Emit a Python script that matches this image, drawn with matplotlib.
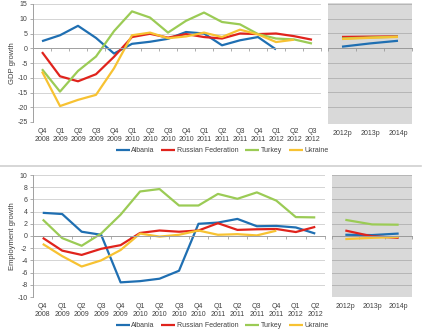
import numpy as np
import matplotlib
matplotlib.use("Agg")
import matplotlib.pyplot as plt
from matplotlib.lines import Line2D

plt.rcParams['font.family'] = ['Liberation Sans', 'DejaVu Sans']

# ---------------- data ----------------
gdp_quarters = ["Q4\n2008", "Q1\n2009", "Q2\n2009", "Q3\n2009", "Q4\n2009", "Q1\n2010",
                "Q2\n2010", "Q3\n2010", "Q4\n2010", "Q1\n2011", "Q2\n2011", "Q3\n2011",
                "Q4\n2011", "Q1\n2012", "Q2\n2012", "Q3\n2012"]
gdp_albania = [2.4, 4.4, 7.6, 3.5, -1.8, 1.5, 2.2, 3.2, 5.5, 5.0, 1.0, 2.7, 3.8, -0.4, None, None]
gdp_russia = [-1.3, -9.5, -11.2, -8.8, -2.9, 3.8, 4.9, 3.6, 4.8, 3.8, 3.3, 5.0, 4.8, 5.0, 4.1, 2.9]
gdp_turkey = [-7.1, -14.7, -7.7, -2.8, 5.8, 12.5, 10.4, 5.3, 9.3, 12.1, 8.9, 8.1, 4.8, 3.3, 3.0, 1.6]
gdp_ukraine = [-7.9, -19.6, -17.5, -15.8, -6.8, 4.4, 5.3, 3.4, 4.0, 5.3, 3.8, 6.3, 4.7, 2.1, 2.9, None]

proj_years = ["2012p", "2013p", "2014p"]
gdp_proj_albania = [0.5, 1.6, 2.5]
gdp_proj_russia = [3.8, 3.9, 4.0]
gdp_proj_turkey = [3.3, 3.6, 3.9]
gdp_proj_ukraine = [3.1, 3.5, 3.8]

emp_quarters = gdp_quarters[:15]
emp_albania = [3.8, 3.6, 0.7, 0.2, -7.6, -7.4, -7.0, -5.7, 2.0, 2.2, 2.8, 1.6, 1.65, 1.4, 0.4]
emp_russia = [-0.3, -2.4, -3.1, -2.1, -1.5, 0.5, 0.9, 0.7, 0.9, 2.1, 1.0, 1.1, 1.15, 0.65, 1.5]
emp_turkey = [2.7, -0.35, -1.6, 0.4, 3.5, 7.3, 7.7, 5.0, 5.0, 6.9, 6.1, 7.15, 5.8, 3.1, 3.05]
emp_ukraine = [-1.3, -3.3, -5.0, -4.0, -2.3, 0.4, -0.1, 0.2, 0.9, 0.2, 0.3, 0.1, 0.87, None, None]

emp_proj_albania = [0.2, 0.15, 0.4]
emp_proj_russia = [0.9, -0.05, -0.3]
emp_proj_turkey = [2.65, 1.9, 1.85]
emp_proj_ukraine = [-0.5, -0.3, -0.15]

names = ["Albania", "Russian Federation", "Turkey", "Ukraine"]
colors = ["#1F6FB2", "#E0231C", "#9BCB55", "#F7C232"]

LW = 1.6
TXT = "#404040"
GRID = "#d4d4d4"
AXC = "#a0a0a0"


def arr(v):
    return np.array([np.nan if x is None else x for x in v], dtype=float)


def left_panel(ax, cats, series, ylim, yticks, ylabel):
    x = np.arange(len(cats))
    for s, c, n in zip(series, colors, names):
        ax.plot(x, arr(s), color=c, lw=LW, label=n, solid_capstyle='butt')
    ax.set_xlim(-0.5, len(cats) - 0.5)
    ax.set_ylim(*ylim)
    ax.set_yticks(yticks)
    ax.set_yticklabels([str(t) for t in yticks], fontsize=5, color=TXT)
    for t in yticks:
        if t != 0 and t != ylim[0]:
            ax.axhline(t, color=GRID, lw=0.7, zorder=0)
    for sp in ['top', 'right']:
        ax.spines[sp].set_visible(False)
    ax.spines['left'].set_color(AXC)
    ax.spines['left'].set_linewidth(0.7)
    ax.spines['bottom'].set_position(('data', 0))
    ax.spines['bottom'].set_color(AXC)
    ax.spines['bottom'].set_linewidth(0.7)
    ax.tick_params(axis='y', length=2, width=0.6, color=AXC, pad=2)
    ax.set_xticks(x)
    ax.set_xticklabels([])
    ax.tick_params(axis='x', which='major', length=0)
    ax.set_xticks(np.arange(len(cats) + 1) - 0.5, minor=True)
    ax.tick_params(axis='x', which='minor', length=2.5, width=0.6, color=AXC)
    sec = ax.secondary_xaxis(location=0)
    sec.set_xticks(x)
    sec.set_xticklabels(cats, fontsize=5, color=TXT, linespacing=1.3)
    sec.tick_params(length=0, pad=4)
    sec.spines['bottom'].set_visible(False)
    ax.set_ylabel(ylabel, fontsize=5.5, color=TXT, labelpad=1)


def right_panel(ax, series, ylim, yticks, xlim):
    x = np.arange(len(proj_years))
    ax.set_facecolor("#d9d9d9")
    for s, c in zip(series, colors):
        ax.plot(x, arr(s), color=c, lw=LW, solid_capstyle='butt')
    ax.set_xlim(*xlim)
    ax.set_ylim(*ylim)
    for t in yticks:
        if t != 0 and t != yticks[0]:
            ax.axhline(t, color="#b5b5b5", lw=0.7, zorder=0)
    for sp in ['top', 'right', 'left']:
        ax.spines[sp].set_visible(False)
    ax.spines['bottom'].set_position(('data', 0))
    ax.spines['bottom'].set_color("#9a9a9a")
    ax.spines['bottom'].set_linewidth(0.7)
    ax.set_yticks([])
    ax.set_xticks(x)
    ax.set_xticklabels([])
    ax.tick_params(axis='x', which='major', length=0)
    ax.set_xticks(np.arange(len(proj_years) + 1) - 0.5, minor=True)
    ax.tick_params(axis='x', which='minor', length=2.5, width=0.6, color="#9a9a9a")
    sec = ax.secondary_xaxis(location=0)
    sec.set_xticks(x)
    sec.set_xticklabels(proj_years, fontsize=5, color=TXT)
    sec.tick_params(length=0, pad=4)
    sec.spines['bottom'].set_visible(False)


W, H = 425, 336
fig = plt.figure(figsize=(W / 100, H / 100), dpi=100)


def rect(x0, y0, x1, y1):
    return [x0 / W, 1 - y1 / H, (x1 - x0) / W, (y1 - y0) / H]


# top chart
ax1 = fig.add_axes(rect(33, 4, 321, 122))
left_panel(ax1, gdp_quarters, [gdp_albania, gdp_russia, gdp_turkey, gdp_ukraine],
           (-25, 15), list(range(-25, 16, 5)), "GDP growth")
ax2 = fig.add_axes(rect(328, 3, 412, 124))
right_panel(ax2, [gdp_proj_albania, gdp_proj_russia, gdp_proj_turkey, gdp_proj_ukraine],
            (-25.7, 15.3), list(range(-25, 16, 5)), (-0.3, 2.5))

# bottom chart
ax3 = fig.add_axes(rect(33, 175, 325, 297))
left_panel(ax3, emp_quarters, [emp_albania, emp_russia, emp_turkey, emp_ukraine],
           (-10, 10), list(range(-10, 11, 2)), "Employment growth")
ax4 = fig.add_axes(rect(332, 175, 412, 297))
right_panel(ax4, [emp_proj_albania, emp_proj_russia, emp_proj_turkey, emp_proj_ukraine],
            (-10, 10), list(range(-10, 11, 2)), (-0.36, 2.5))

# legends
for ax, yc in [(ax1, 151), (ax3, 325.5)]:
    h, l = ax.get_legend_handles_labels()
    fig.legend(h, l, loc='center', bbox_to_anchor=(222 / W, 1 - yc / H), ncol=4,
               frameon=False, fontsize=5, handlelength=2.0, handletextpad=0.2,
               columnspacing=1.0, labelcolor=TXT, borderpad=0)

# separator
fig.add_artist(Line2D([0, 0.99], [1 - 166 / H, 1 - 166 / H], color="#d0d0d0", lw=1.2,
                      transform=fig.transFigure))

fig.savefig("out.png", dpi=100)
